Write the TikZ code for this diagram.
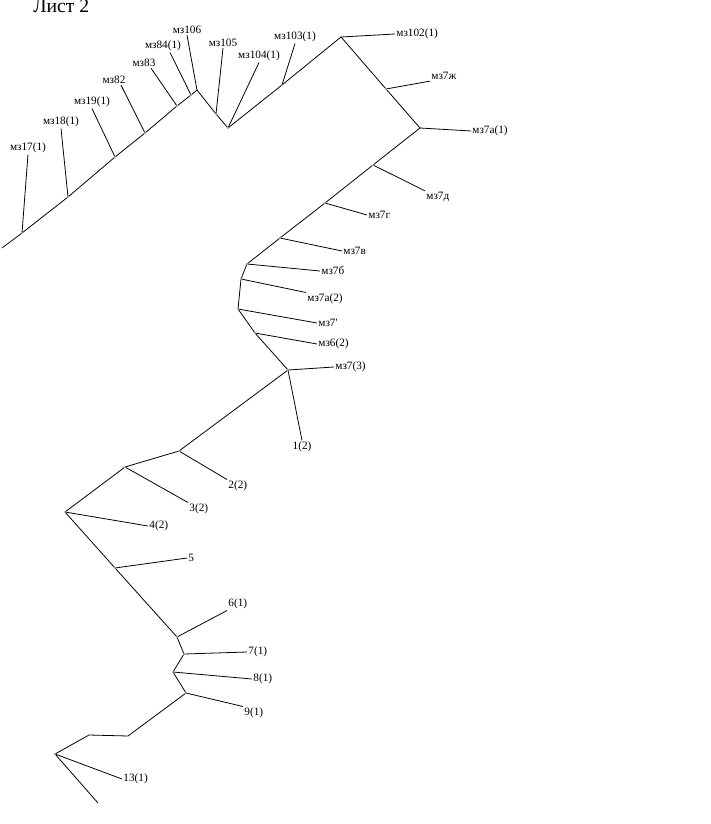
\documentclass[tikz,border=0pt]{standalone}
\usepackage{fontspec}
\setmainfont{Liberation Serif}
\usetikzlibrary{positioning}
\tikzset {
  lbl/.style={font=\fontsize{6.4}{7}\selectfont,inner sep=0.6pt},
  pipe/.style={line width=0.45pt},
  jdot/.style={fill=gray!60,draw=none},
}

\begin{document}
\begin{tikzpicture}[x=0.02cm,y=-0.02cm]
  \useasboundingbox (0,0) rectangle (710,824);
  \node at (33,13)[anchor=base west,inner sep=0pt,font=\fontsize{11.2}{13}\selectfont]{Лист 2};

  % upper run
  \coordinate (s0) at (2,248);
  \coordinate (j17) at (22,233);
  \coordinate (j18) at (68,197);
  \coordinate (j19) at (115,157);
  \coordinate (j82) at (145,133);
  \coordinate (j83) at (177,106);
  \coordinate (j84) at (191,95);
  \coordinate (t1) at (197,90);
  \coordinate (j105) at (216,114);
  \coordinate (v1) at (228,128);
  \coordinate (j103) at (282,85);
  \coordinate (t2) at (341,37);
  \coordinate (j7zh) at (386,89);
  \coordinate (j7a1) at (420,128);
  \coordinate (j7d) at (373,165);
  \coordinate (j7g) at (325,203);
  \coordinate (j7v) at (280,238);
  \coordinate (j7b) at (247,264);
  \coordinate (j7a2) at (241,279);
  \coordinate (j7p) at (238,309);
  \coordinate (j62) at (255,333);
  \coordinate (j73) at (288,370);
  % lower run
  \coordinate (j22) at (179,451);
  \coordinate (j32) at (125,467);
  \coordinate (j42) at (65,512);
  \coordinate (j5) at (115,568);
  \coordinate (j61) at (177,637);
  \coordinate (j71) at (184,654);
  \coordinate (j81) at (173,672);
  \coordinate (j91) at (186,693);
  \coordinate (b1) at (128,736);
  \coordinate (b2) at (89,735);
  \coordinate (j131) at (55,754);
  \coordinate (e0) at (98,803);

  \draw[pipe] (s0) -- (j17) -- (j18) -- (j19) -- (j82) -- (j83) -- (j84) -- (t1)
    -- (j105) -- (v1) -- (j103) -- (t2) -- (j7zh) -- (j7a1) -- (j7d) -- (j7g)
    -- (j7v) -- (j7b) -- (j7a2) -- (j7p) -- (j62) -- (j73) -- (j22) -- (j32)
    -- (j42) -- (j5) -- (j61) -- (j71) -- (j81) -- (j91) -- (b1) -- (b2)
    -- (j131) -- (e0);

  % labels above
  \node (m17) at (28,148)[lbl]{мз17(1)};
  \node (m18) at (61,122)[lbl]{мз18(1)};
  \node (m19) at (92,102)[lbl]{мз19(1)};
  \node (m82) at (114,80)[lbl]{мз82};
  \node (m83) at (144,63)[lbl]{мз83};
  \node (m84) at (163,46)[lbl]{мз84(1)};
  \node (m106) at (187,30)[lbl]{мз106};
  \node (m105) at (223,43)[lbl]{мз105};
  \node (m104) at (259,56)[lbl]{мз104(1)};
  \node (m103) at (295,37)[lbl]{мз103(1)};
  \draw[pipe] (j17) -- (m17.south);
  \draw[pipe] (j18) -- (m18.south);
  \draw[pipe] (j19) -- (m19.south);
  \draw[pipe] (j82) -- ([xshift=4]m82.south);
  \draw[pipe] (j83) -- ([xshift=4]m83.south);
  \draw[pipe] (j84) -- ([xshift=4]m84.south);
  \draw[pipe] (t1) -- (m106.south);
  \draw[pipe] (j105) -- (m105.south);
  \draw[pipe] (v1) -- (m104.south);
  \draw[pipe] (j103) -- (m103.south);

  % labels to the right
  \node (m102) at (395,34)[lbl,anchor=west]{мз102(1)};
  \node (m7zh) at (430,76)[lbl,anchor=west]{мз7ж};
  \node (m7a1) at (471,131)[lbl,anchor=west]{мз7а(1)};
  \node (m7d) at (425,197)[lbl,anchor=west]{мз7д};
  \node (m7g) at (367,215)[lbl,anchor=west]{мз7г};
  \node (m7v) at (342,251)[lbl,anchor=west]{мз7в};
  \node (m7b) at (320,271)[lbl,anchor=west]{мз7б};
  \node (m7a2) at (306,299)[lbl,anchor=west]{мз7а(2)};
  \node (m7p) at (317,323)[lbl,anchor=west]{мз7\textquotesingle};
  \node (m62) at (317,344)[lbl,anchor=west]{мз6(2)};
  \node (m73) at (334,367)[lbl,anchor=west]{мз7(3)};
  \draw[pipe] (t2) -- (m102.west);
  \draw[pipe] (j7zh) -- (m7zh.south west);
  \draw[pipe] (j7a1) -- (m7a1.west);
  \draw[pipe] (j7d) -- (m7d.north west);
  \draw[pipe] (j7g) -- (m7g.west);
  \draw[pipe] (j7v) -- (m7v.west);
  \draw[pipe] (j7b) -- (m7b.west);
  \draw[pipe] (j7a2) -- (m7a2.north west);
  \draw[pipe] (j7p) -- (m7p.west);
  \draw[pipe] (j62) -- (m62.west);
  \draw[pipe] (j73) -- (m73.west);

  % lower branches
  \node (n1) at (302,447)[lbl]{1(2)};
  \node (n2) at (227,486)[lbl,anchor=west]{2(2)};
  \node (n3) at (188,509)[lbl,anchor=west]{3(2)};
  \node (n4) at (148,526)[lbl,anchor=west]{4(2)};
  \node (n5) at (187,558)[lbl,anchor=west]{5};
  \node (n6) at (227,604)[lbl,anchor=west]{6(1)};
  \node (n7) at (247,652)[lbl,anchor=west]{7(1)};
  \node (n8) at (252,679)[lbl,anchor=west]{8(1)};
  \node (n9) at (243,713)[lbl,anchor=west]{9(1)};
  \node (n13) at (122,779)[lbl,anchor=west]{13(1)};
  \draw[pipe] (j73) -- (n1.north);
  \draw[pipe] (j22) -- (n2.north west);
  \draw[pipe] (j32) -- (n3.north west);
  \draw[pipe] (j42) -- (n4.west);
  \draw[pipe] (j5) -- (n5.west);
  \draw[pipe] (j61) -- (n6.south west);
  \draw[pipe] (j71) -- (n7.west);
  \draw[pipe] (j81) -- (n8.west);
  \draw[pipe] (j91) -- (n9.north west);
  \draw[pipe] (j131) -- (n13.west);

  \foreach \p in {j17,j18,j19,j82,j83,j84,j105,v1,j103,j7zh,j7d,j7g,j7v,j7b,
    j7a2,j7p,j62,j73,j22,j32,j42,j5,j61,j71,j81,j91,j131}
    \fill[jdot] (\p) circle[radius=1.1];
\end{tikzpicture}
\end{document}
